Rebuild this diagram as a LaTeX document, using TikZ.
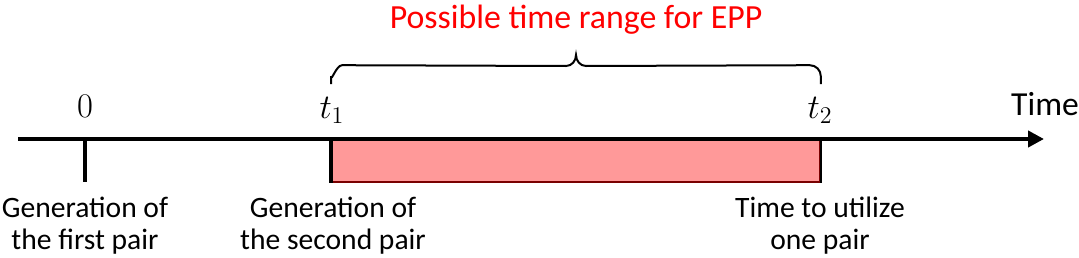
\documentclass[tikz,border=0pt]{standalone}
\usepackage{fontspec}
\setmainfont{Carlito}
\usepackage{amsmath}
\usetikzlibrary{arrows.meta, positioning, calc}

\definecolor{eppfill}{HTML}{FF9999}
\definecolor{eppedge}{HTML}{7A0000}

\begin{document}
\begin{tikzpicture}[
    x=0.5pt, y=-0.5pt,
    >={Triangle[length=8pt, width=8pt]},
    font=\fontsize{14.8}{16}\selectfont,
    every node/.style={align=center, inner sep=0pt},
    axis/.style={->, line width=2pt},
    tickline/.style={line width=2pt},
    eppregion/.style={draw=eppedge, line width=0.8pt, fill=eppfill},
    marklabel/.style={font=\fontsize{16.5}{18}\selectfont},
    event/.style={font=\fontsize{14.8}{16}\selectfont},
    bracket/.style={line width=1pt}
]
\useasboundingbox (0,0) rectangle (1079,257);

% =========================================================
% Time axis
% =========================================================
\coordinate (axisstart) at (18,139);
\coordinate (axisend)   at (1044,139);

% Possible range for EPP
\node[eppregion, minimum width=244pt, minimum height=21.5pt] (eppbox) at (576,160.5) {};

\draw[axis] (axisstart) -- (axisend);
\node[anchor=base] (timelbl) at (1045,115) {\fontsize{16.8}{18}\selectfont Time};

% Ticks
\coordinate (tick0) at (85,139);
\draw[tickline] (tick0) -- ++(0,43) coordinate (tick0end);
\draw[tickline] (eppbox.north west) -- (eppbox.south west);
\draw[line width=1.2pt] (eppbox.north east) -- (eppbox.south east);

% Time marks
\node[marklabel] (m0) at (85,106)  {$0$};
\node[marklabel] (m1) at (332,110) {$t_1$};
\node[marklabel] (m2) at (820,110) {$t_2$};

% Event descriptions
\node[event] (ev0) at (85,226)  {Generation of\\the first pair};
\node[event] (ev1) at (333,226) {Generation of\\the second pair};
\node[event] (ev2) at (820,226) {Time to utilize\\one pair};

% Brace over the range
\coordinate (bl)  at ($(eppbox.north west)+(0,-54)$);
\coordinate (br)  at ($(eppbox.north east)+(0,-54)$);
\coordinate (tip) at (576,55);
\draw[bracket] (bl) -- ++(0,-8) to[out=-90,in=180] ($(bl)+(11,-19)$)
    -- ($(tip)+(-10,11)$) to[out=0,in=-90] (tip)
    to[out=-90,in=180] ($(tip)+(10,11)$)
    -- ($(br)+(-11,-19)$) to[out=0,in=90] ($(br)+(0,-8)$) -- (br);
\node[font=\fontsize{16.9}{18}\selectfont, text=red] (title) at (576,20) {Possible time range for EPP};

\end{tikzpicture}
\end{document}
